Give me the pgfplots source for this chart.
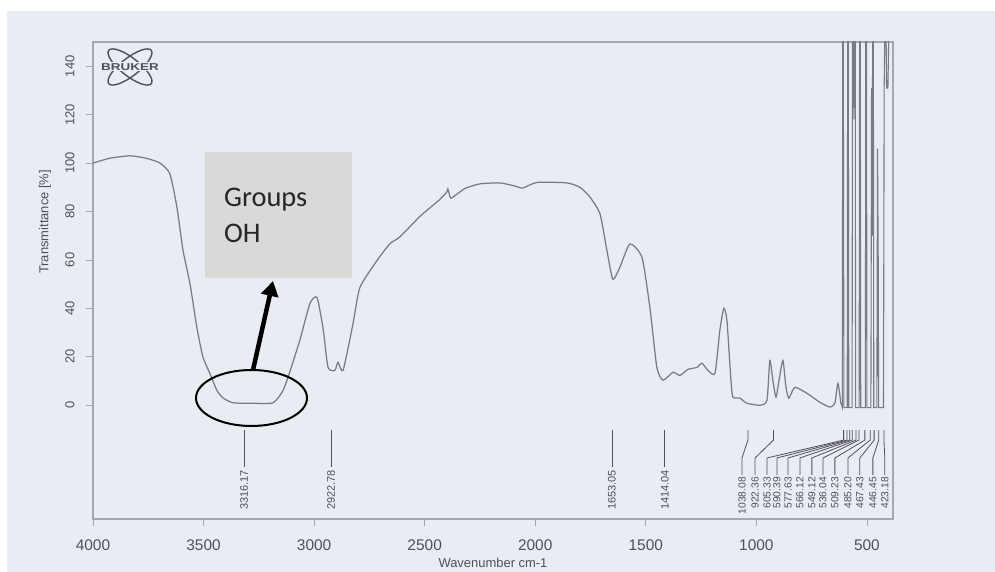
\documentclass[border=0pt]{standalone}
\usepackage{pgfplots}
\pgfplotsset{compat=1.18}
\usepackage{pgfplotstable}
\usepackage{fontspec}
\setmainfont{Liberation Sans}
\newfontfamily\calib{Carlito}
\usetikzlibrary{arrows.meta}

\definecolor{paper}{RGB}{234,236,243}
\definecolor{spec}{RGB}{122,122,130}
\definecolor{txt}{RGB}{80,80,86}
\definecolor{frame}{RGB}{165,167,175}
\definecolor{boxg}{RGB}{217,217,217}

\tikzset{
  lab/.style={draw=txt, line width=0.8bp},
  lbl/.style={rotate=90, anchor=east, font=\fontsize{11}{12}\selectfont, text=txt, inner sep=0.5bp},
  lbl2/.style={rotate=90, anchor=east, font=\fontsize{10.3}{11}\selectfont, text=txt, inner sep=0.5bp},
}

\pgfplotstableread{
w T
4000 100
3923 102
3833 103
3760 102
3697 100
3652 95.5
3620 81.5
3593 64
3561 50
3530 32
3503 20
3471 13
3439 6
3412 3
3367 1
3280 0.8
3186 1
3141 6
3109 14
3064 27
3019 42
2987 44.5
2960 32
2937 15.6
2906 14.4
2892 17.7
2869 14.4
2824 33.7
2793 48.6
2716 59.7
2657 66.7
2612 69.5
2521 78
2431 85
2400 88
2395 89.3
2385 86
2377 85.6
2318 89.5
2250 91.4
2160 91.8
2092 90.5
2056 89.7
1992 92
1857 91.8
1798 90
1753 86
1707 79
1676 64
1649 52
1617 57
1572 66.6
1517 61
1481 40
1450 15.6
1422 10.3
1377 13.6
1346 12.3
1309 14.8
1269 15.6
1246 17.3
1219 14.4
1187 13.2
1165 31
1147 40
1133 35
1115 10.3
1106 3.3
1074 2.9
1043 0.8
984 0
952 2
939 18.5
925 10
911 3.3
898 10
880 18.5
866 7.4
853 2.9
826 7.4
771 4.9
713 1.2
667 -0.8
645 0.8
631 9
618 1
}\mainspec

\pgfplotstableread{
w T
618 1
611 -1
609.5 160
607 160
604 -1
589 -1
587 160
584.5 160
582 -1
567 -1
565 160
562 160
559 118
556 160
553 160
551 -1
535 -1
533 160
530 160
528 -1
507 -1
505 160
502 160
500 -1
482 -1
479 131
476 70
474 160
471 160
469 -1
455 -1
452 106
449 62
447 -1
425 -1
422 131
418 160
414 160
411 131
405 131
400 160
390 160
383 160
}\spikes

\newcommand{\pk}[1]{%
  \draw[lab] (axis cs:#1,-10.3) -- (axis cs:#1,-25.5);
  \node[lbl] at (axis cs:#1,-26.5) {#1};}
\newcommand{\cl}[3]{%
  \draw[lab] (axis cs:#1,-10.3) -- (axis cs:#1,-14.4) -- (axis cs:#2,-21.8) -- (axis cs:#2,-28.8);
  \node[lbl2] at (axis cs:#2,-29.4) {#3};}

\begin{document}
\begin{tikzpicture}[x=1bp,y=1bp]
\useasboundingbox (0,0) rectangle (995,572);
\fill[white] (0,0) rectangle (995,572);
\fill[paper] (7,0) rectangle (995,561);
\begin{axis}[
  at={(93bp,53bp)}, anchor=south west,
  width=800bp, height=477bp, scale only axis,
  x dir=reverse, xmin=382, xmax=4000, ymin=-47, ymax=150,
  xtick={500,1000,...,4000}, ytick={0,20,...,140},
  xtick pos=bottom, ytick pos=left,
  tick align=outside, major tick length=7bp,
  axis line style={frame, line width=1.3bp},
  tick style={frame, line width=0.8bp},
  /pgf/number format/1000 sep={},
  /pgf/number format/assume math mode=true,
  xticklabel style={font=\fontsize{15.5}{16}\selectfont, text=txt, yshift=-10bp},
  yticklabel style={xshift=-8bp, rotate=90, anchor=south, font=\fontsize{13}{14}\selectfont, text=txt},
  xlabel={Wavenumber cm-1},
  ylabel={Transmittance [\%]},
  xlabel style={font=\fontsize{13}{14}\selectfont, text=txt, at={(axis description cs:0.5,-0.093)}, anchor=center},
  ylabel style={font=\fontsize{13}{14}\selectfont, text=txt, at={(axis description cs:-0.06,0.623)}, anchor=center},
  clip mode=individual,
]
\addplot[spec, line width=1.25bp, smooth, tension=0.35] table[x=w,y=T] {\mainspec};
\addplot[spec, line width=1.1bp] table[x=w,y=T] {\spikes};
\pk{3316.17}
\pk{2922.78}
\pk{1653.05}
\pk{1414.04}
\cl{1038.08}{1065}{1038.08}
\cl{922.36}{1006}{922.36}
\cl{605.33}{952}{605.33}
\cl{590.39}{907}{590.39}
\cl{577.63}{857}{577.63}
\cl{566.12}{803}{566.12}
\cl{549.12}{749}{549.12}
\cl{536.04}{699}{536.04}
\cl{509.23}{645}{509.23}
\cl{485.20}{586}{485.20}
\cl{467.43}{532}{467.43}
\cl{446.45}{473}{446.45}
\cl{423.18}{419}{423.18}
\end{axis}
% Bruker logo
\begin{scope}[shift={(130,505)}]
  \draw[txt, line width=1.4bp, rotate=38] (0,0) ellipse [x radius=27, y radius=9];
  \draw[txt, line width=1.4bp, rotate=-38] (0,0) ellipse [x radius=27, y radius=9];
  \fill[paper] (-33,-4.5) rectangle (33,4.5);
  \node[text=txt, font=\bfseries\fontsize{10}{10}\selectfont, xscale=1.35, inner sep=0] at (0,0) {BRUKER};
\end{scope}
% annotation
\fill[boxg] (205,294) rectangle (352,420);
\node[anchor=base west, inner sep=0, font=\calib\fontsize{28.5}{30}\selectfont, text=black!85] at (224,365) {Groups};
\node[anchor=base west, inner sep=0, font=\calib\fontsize{28.5}{30}\selectfont, text=black!85] at (224,329) {OH};
\draw[black, line width=2bp] (251.5,174) ellipse [x radius=55.5, y radius=28];
\draw[black, line width=4.5bp, -{Triangle[length=15bp,width=17bp]}] (253,202) -- (273,291);
\end{tikzpicture}
\end{document}
